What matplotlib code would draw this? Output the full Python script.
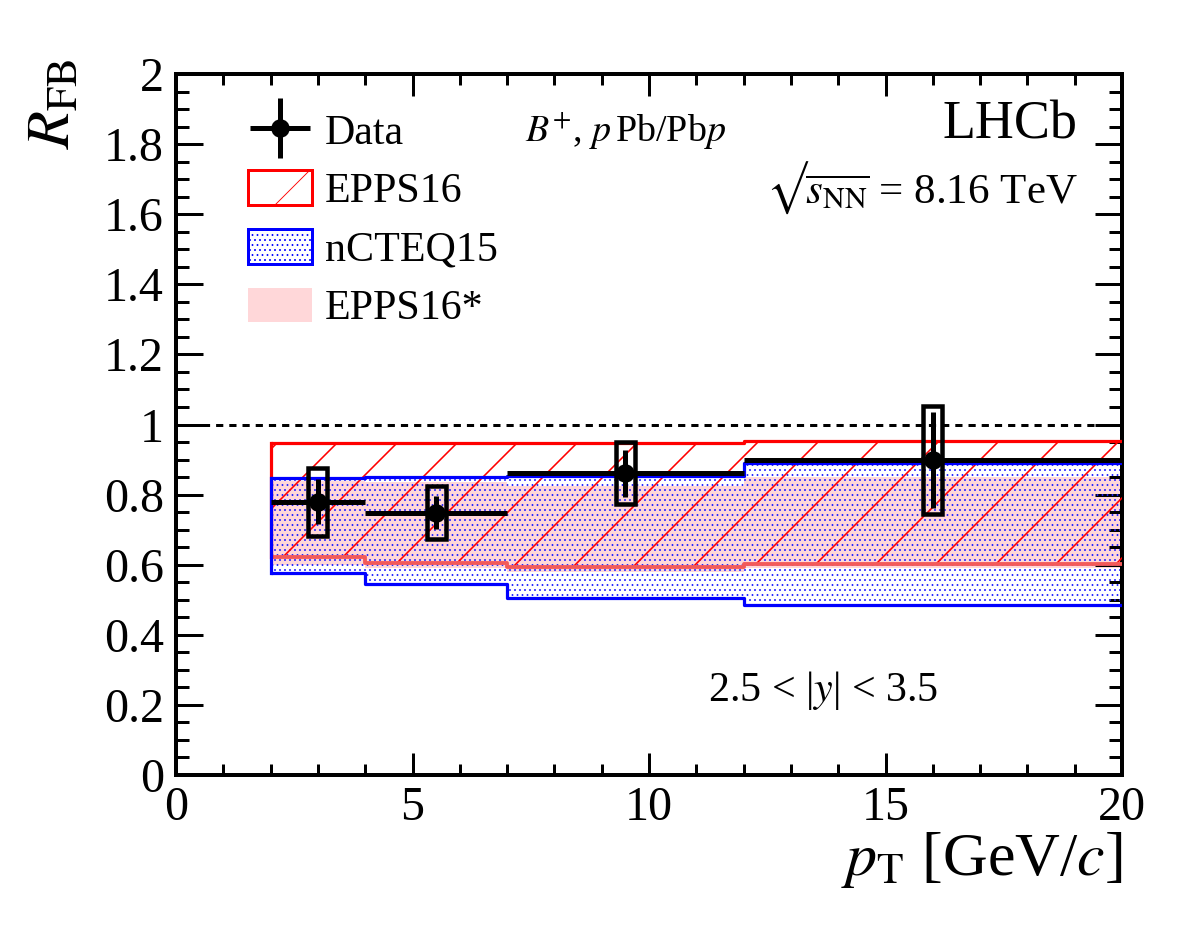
import numpy as np
import matplotlib
matplotlib.use("Agg")
import matplotlib.pyplot as plt
from matplotlib.patches import Rectangle, Patch
from matplotlib.legend_handler import HandlerErrorbar
from matplotlib.ticker import MultipleLocator, FixedLocator
from matplotlib.mathtext import MathTextParser

# ---------------- data ----------------
pt_edges = [2, 4, 7, 12, 20]
pt_centers = [3.0, 5.5, 9.5, 16.0]
rfb = [0.780, 0.748, 0.861, 0.899]
rfb_stat = [0.064, 0.047, 0.067, 0.138]
rfb_syst = [0.097, 0.076, 0.089, 0.154]

epps16_hi = [0.946, 0.946, 0.946, 0.954]
epps16_lo = [0.623, 0.604, 0.594, 0.601]
ncteq15_hi = [0.846, 0.849, 0.853, 0.891]
ncteq15_lo = [0.577, 0.544, 0.506, 0.485]
epps16s_hi = [0.840, 0.835, 0.825, 0.850]
epps16s_lo = [0.600, 0.590, 0.580, 0.590]

x_ticks = [0, 5, 10, 15, 20]
y_ticks = [0, 0.2, 0.4, 0.6, 0.8, 1, 1.2, 1.4, 1.6, 1.8, 2]
y_ticklabels = ["0", "0.2", "0.4", "0.6", "0.8", "1", "1.2", "1.4", "1.6", "1.8", "2"]

# ---------------- style ----------------
DPI = 180
P = 72.0 / DPI  # points per pixel

DOT_LW = 0.9 * P
DOT_HATCH = "......"
RED_LW = 1.6 * P

plt.rcParams["font.family"] = ["Liberation Serif", "DejaVu Serif"]
plt.rcParams["mathtext.fontset"] = "stix"
plt.rcParams["hatch.linewidth"] = DOT_LW

fig = plt.figure(figsize=(1182 / DPI, 936 / DPI), dpi=DPI)
ax = fig.add_axes([176 / 1182, (936 - 775) / 936, 946 / 1182, 701 / 936])
ax.set_xlim(0, 20)
ax.set_ylim(0, 2)

edges = np.array(pt_edges, dtype=float)


def ext(v):
    v = np.asarray(v, dtype=float)
    return np.append(v, v[-1])


def step_xy(v):
    v = np.asarray(v, dtype=float)
    xs = np.repeat(edges, 2)[1:-1]
    ys = np.repeat(v, 2)
    return xs, ys


# EPPS16* pink band
pink = "#ffb6bb"
ax.fill_between(edges, ext(epps16s_lo), ext(epps16s_hi), step="post",
                facecolor=pink, alpha=0.55, linewidth=0, zorder=1)

# nCTEQ15 dotted band
with plt.rc_context({"hatch.linewidth": DOT_LW}):
    pc = ax.fill_between(edges, ext(ncteq15_lo), ext(ncteq15_hi), step="post",
                         facecolor="none", edgecolor="#2020ff", hatch=DOT_HATCH,
                         linewidth=0, zorder=2)

# EPPS16 hatched band
with plt.rc_context({"hatch.linewidth": RED_LW}):
    pr = ax.fill_between(edges, ext(epps16_lo), ext(epps16_hi), step="post",
                         facecolor="none", edgecolor="red", hatch="/",
                         linewidth=0, zorder=3)

# outlines
lw_band = 3.2 * P
xs, ys = step_xy(epps16_hi)
ax.plot(xs, ys, color="red", lw=lw_band, zorder=4, solid_capstyle="butt")
xs, ys = step_xy(epps16_lo)
ax.plot(xs, ys, color="#f25a5a", lw=lw_band * 1.2, zorder=4, solid_capstyle="butt")
ax.plot([edges[0], edges[0]], [epps16_lo[0], epps16_hi[0]], color="red", lw=lw_band, zorder=4)

xs, ys = step_xy(ncteq15_hi)
ax.plot(xs, ys, color="blue", lw=lw_band, zorder=5, solid_capstyle="butt")
xs, ys = step_xy(ncteq15_lo)
ax.plot(xs, ys, color="blue", lw=lw_band, zorder=5, solid_capstyle="butt")
ax.plot([edges[0], edges[0]], [ncteq15_lo[0], ncteq15_hi[0]], color="blue", lw=lw_band, zorder=5)

# reference line at 1
lw_dash = 3 * P
ax.axhline(1.0, color="black", lw=lw_dash, linestyle=(0, (2.4, 2.0)), zorder=6)

# data
centers = np.array(pt_centers)
xerr = [centers - edges[:-1], edges[1:] - centers]
eb = ax.errorbar(pt_centers, rfb, xerr=xerr, yerr=rfb_stat, fmt="o", color="black",
                 ms=16 * P, lw=5 * P, elinewidth=5 * P, capsize=0, zorder=10, label="Data")
box_hw = 0.2
for c, v, s in zip(pt_centers, rfb, rfb_syst):
    ax.add_patch(Rectangle((c - box_hw, v - s), 2 * box_hw, 2 * s, fill=False,
                           edgecolor="black", lw=4.5 * P, zorder=9))

# ---------------- axes styling ----------------
for sp in ax.spines.values():
    sp.set_linewidth(4 * P)
ax.xaxis.set_major_locator(FixedLocator(x_ticks))
ax.xaxis.set_minor_locator(MultipleLocator(1))
ax.yaxis.set_major_locator(FixedLocator(y_ticks))
ax.set_yticklabels(y_ticklabels)
ax.yaxis.set_minor_locator(MultipleLocator(0.05))
ax.tick_params(axis="both", which="both", direction="in", top=True, right=True,
               width=3 * P)
ax.tick_params(axis="x", which="major", length=22 * P, pad=11 * P, labelsize=48 * P)
ax.tick_params(axis="x", which="minor", length=11 * P)
ax.tick_params(axis="y", which="major", length=27 * P, pad=12 * P, labelsize=48 * P)
ax.tick_params(axis="y", which="minor", length=13 * P)

ax.set_xlabel(r"$p_{\mathrm{T}}$ [GeV/$c$]", fontsize=62 * P, ha="right", va="top")
ax.xaxis.set_label_coords(1.0, -0.078)
ax.set_ylabel(r"$R_{\mathrm{FB}}$", fontsize=62 * P, ha="center", va="center")
ax.yaxis.set_label_coords(-0.128, 0.958)

# texts
ax.text(0.369, 0.92, r"$B^{+}$, $p\,$Pb/Pb$p$", transform=ax.transAxes,
        fontsize=38 * P, ha="left", va="center")
ax.text(0.953, 0.927, "LHCb", transform=ax.transAxes, fontsize=54 * P,
        ha="right", va="center")

sqrt_txt = "$\u221a" + r"\overline{s_{\mathrm{NN}}}$ = 8.16 TeV"
try:
    MathTextParser("agg").parse(sqrt_txt, dpi=DPI)
except Exception:
    sqrt_txt = r"$\sqrt{s_{\mathrm{NN}}}$ = 8.16 TeV"
ax.text(0.953, 0.837, sqrt_txt, transform=ax.transAxes,
        fontsize=43 * P, ha="right", va="center")
ax.text(0.684, 0.121, r"2.5 < |$y$| < 3.5", transform=ax.transAxes,
        fontsize=42 * P, ha="center", va="center")

# legend
h_epps = Patch(facecolor="white", edgecolor="red", hatch="/", lw=3 * P)
h_ncteq = Patch(facecolor="white", edgecolor="blue", hatch=DOT_HATCH, lw=3 * P)
h_epps_s = Patch(facecolor=pink, alpha=0.55, edgecolor="none")

leg = ax.legend([eb, h_epps, h_ncteq, h_epps_s],
                ["Data", "EPPS16", "nCTEQ15", "EPPS16*"],
                loc="upper left", bbox_to_anchor=(0.0761, 0.946),
                frameon=False, fontsize=42 * P, borderpad=0, borderaxespad=0,
                handlelength=1.52, handleheight=0.9, handletextpad=0.31,
                labelspacing=0.42,
                handler_map={type(eb): HandlerErrorbar(xerr_size=0.72)})

fig.savefig("out.png", dpi=DPI)
